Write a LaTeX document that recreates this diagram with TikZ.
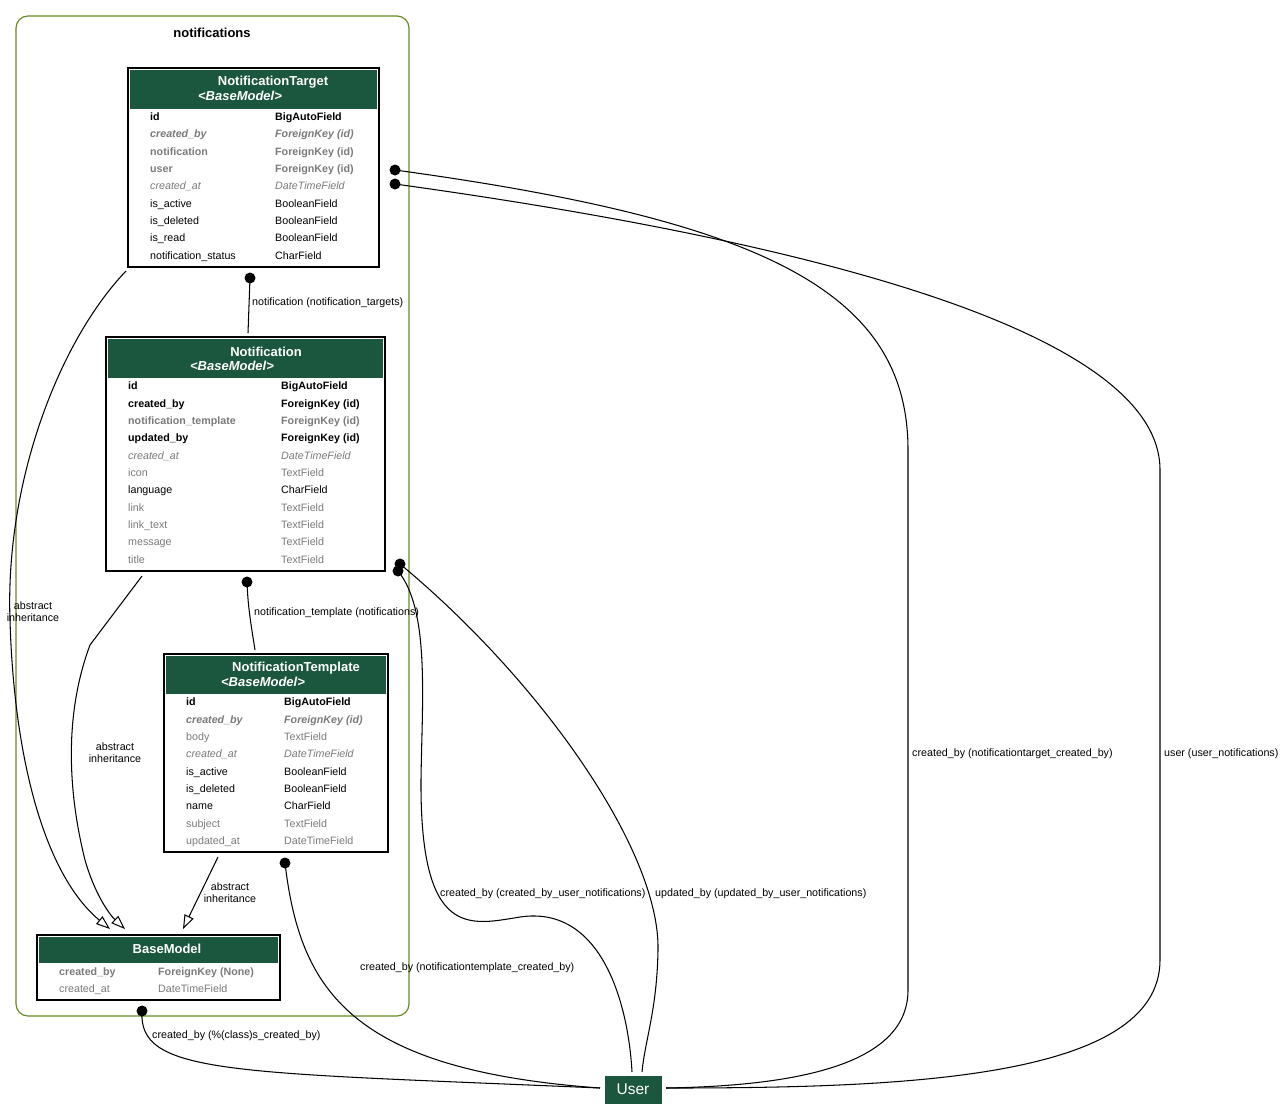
\documentclass[tikz,border=0pt]{standalone}
\usepackage{fontspec}
\setmainfont{Liberation Sans}
\usetikzlibrary{arrows.meta}
\definecolor{hdrgreen}{HTML}{1B563F}
\definecolor{fgray}{HTML}{7B7B7B}
\definecolor{olive}{HTML}{698B22}
\newcommand\fsz{\fontsize{10.7}{12}\selectfont}
\newcommand\tsz{\fontsize{13}{14}\selectfont}
\newcommand\frow[7]{%
 \node[fld,#5] (#1a) at (#2,#4) {#6};
 \node[fld,#5] (#1b) at (#3,#4) {#7};}
\tikzset{
 fld/.style={anchor=west,inner sep=0,text height=8pt,text depth=1pt,font=\fsz},
 bk/.style={text=black},
 bkb/.style={text=black,font=\fsz\bfseries},
 gy/.style={text=fgray},
 gyb/.style={text=fgray,font=\fsz\bfseries},
 gyi/.style={text=fgray,font=\fsz\itshape},
 gybi/.style={text=fgray,font=\fsz\bfseries\itshape},
 tbl/.style={draw=black,line width=1.1pt,fill=white,inner sep=0},
 hdrbox/.style={fill=hdrgreen,inner sep=0},
 ttl/.style={text=white,font=\tsz\bfseries,inner sep=0},
 sub/.style={text=white,font=\tsz\bfseries\itshape,inner sep=0},
 edge/.style={draw=black,line width=1.05pt},
 inh/.style={edge,-{Triangle[open,length=14pt,width=10pt,line width=1pt]}},
 elab/.style={font=\fsz,inner sep=0,text height=8pt,text depth=1pt},
 elabc/.style={font=\fsz,inner sep=0,align=center},
 dotc/.style={fill=black},
}
\begin{document}
\begin{tikzpicture}[x=1pt,y=-1pt]
\useasboundingbox (0,0) rectangle (1284,1119);
\fill[white] (0,0) rectangle (1284,1119);
% cluster
\node[draw=olive,line width=1.2pt,rounded corners=12pt,minimum width=393pt,minimum height=1000pt,inner sep=0] (cluster) at (212.5,516) {};
\node[font=\tsz\bfseries,inner sep=0] (clusterlbl) at (212,33) {notifications};

% coordinates for connectors
\coordinate (d1) at (250,278);   \coordinate (e1) at (248,333);
\coordinate (d2) at (247,582);   \coordinate (e2) at (255,650);
\coordinate (s3) at (126,271);   \coordinate (t3) at (110,929);
\coordinate (s4) at (142,576);   \coordinate (t4) at (125,929);
\coordinate (s5) at (218,857);   \coordinate (t5) at (183,929);
\coordinate (d6) at (142,1011);
\coordinate (d7) at (285,863);
\coordinate (d8) at (398,571);
\coordinate (d9) at (400,564);
\coordinate (d10) at (395,170);
\coordinate (d11) at (395,184);
\coordinate (uL) at (600,1088);
\coordinate (uR) at (666,1088);
\coordinate (uT1) at (632,1072);
\coordinate (uT2) at (642,1072);

% edges
\draw[edge] (d1) -- (e1);
\draw[edge] (d2) .. controls (248,610) and (252,630) .. (e2);
\draw[inh] (s3) .. controls (60,340) and (5,480) .. (10,620) .. controls (14,760) and (45,875) .. (t3);
\draw[inh] (s4) -- (90,645) .. controls (62,720) and (70,800) .. (85,860) .. controls (95,895) and (110,915) .. (t4);
\draw[inh] (s5) -- (t5);
\draw[edge] (d6) .. controls (138,1075) and (230,1072) .. (uL);
\draw[edge] (d7) .. controls (300,990) and (350,1070) .. (uL);
\draw[edge] (d8) .. controls (430,610) and (422,700) .. (421,780) .. controls (420,940) and (470,925) .. (520,917) .. controls (600,905) and (628,1000) .. (uT1);
\draw[edge] (d9) .. controls (540,680) and (660,850) .. (658,950) .. controls (657,1010) and (645,1040) .. (uT2);
\draw[edge] (d10) .. controls (760,220) and (908,290) .. (908,450) -- (908,990) .. controls (908,1070) and (780,1086) .. (uR);
\draw[edge] (d11) .. controls (800,240) and (1160,330) .. (1160,470) -- (1160,960) .. controls (1160,1080) and (900,1088) .. (uR);

% dots
\foreach \d in {d1,d2,d6,d7,d8,d9,d10,d11} \fill[dotc] (\d) circle (5.5pt);

% edge labels
\node[elab,anchor=west] (l1) at (252,302) {notification (notification\_targets)};
\node[elab,anchor=west] (l2) at (254,612) {notification\_template (notifications)};
\node[elabc] (l3) at (33,612) {abstract\\inheritance};
\node[elabc] (l4) at (115,753) {abstract\\inheritance};
\node[elabc] (l5) at (230,893) {abstract\\inheritance};
\node[elab,anchor=west] (l6) at (152,1035) {created\_by (\%(class)s\_created\_by)};
\node[elab,anchor=west] (l7) at (360,967) {created\_by (notificationtemplate\_created\_by)};
\node[elab,anchor=west] (l8) at (440,893) {created\_by (created\_by\_user\_notifications)};
\node[elab,anchor=west] (l9) at (655,893) {updated\_by (updated\_by\_user\_notifications)};
\node[elab,anchor=west] (l10) at (912,753) {created\_by (notificationtarget\_created\_by)};
\node[elab,anchor=west] (l11) at (1164,753) {user (user\_notifications)};

% NotificationTarget
\node[tbl,minimum width=251pt,minimum height=199pt] (NT) at (253.5,167.5) {};
\node[hdrbox,minimum width=247pt,minimum height=39pt] (NTh) at (253.5,89.5) {};
\node[ttl] (NTt) at (273,82) {NotificationTarget};
\node[sub] (NTs) at (240,96) {<BaseModel>};
\frow{ntA}{150}{275}{117}{bkb}{id}{BigAutoField}
\frow{ntB}{150}{275}{134}{gybi}{created\_by}{ForeignKey (id)}
\frow{ntC}{150}{275}{151.5}{gyb}{notification}{ForeignKey (id)}
\frow{ntD}{150}{275}{169}{gyb}{user}{ForeignKey (id)}
\frow{ntE}{150}{275}{186}{gyi}{created\_at}{DateTimeField}
\frow{ntF}{150}{275}{203.5}{bk}{is\_active}{BooleanField}
\frow{ntG}{150}{275}{221}{bk}{is\_deleted}{BooleanField}
\frow{ntH}{150}{275}{238}{bk}{is\_read}{BooleanField}
\frow{ntI}{150}{275}{255.5}{bk}{notification\_status}{CharField}

% Notification
\node[tbl,minimum width=279pt,minimum height=234pt] (NO) at (245.5,454) {};
\node[hdrbox,minimum width=275pt,minimum height=39pt] (NOh) at (245.5,358.5) {};
\node[ttl] (NOt) at (266,352) {Notification};
\node[sub] (NOs) at (232,365.5) {<BaseModel>};
\frow{noA}{128}{281}{386}{bkb}{id}{BigAutoField}
\frow{noB}{128}{281}{403.5}{bkb}{created\_by}{ForeignKey (id)}
\frow{noC}{128}{281}{421}{gyb}{notification\_template}{ForeignKey (id)}
\frow{noD}{128}{281}{438}{bkb}{updated\_by}{ForeignKey (id)}
\frow{noE}{128}{281}{455.5}{gyi}{created\_at}{DateTimeField}
\frow{noF}{128}{281}{473}{gy}{icon}{TextField}
\frow{noG}{128}{281}{490}{bk}{language}{CharField}
\frow{noH}{128}{281}{507.5}{gy}{link}{TextField}
\frow{noI}{128}{281}{525}{gy}{link\_text}{TextField}
\frow{noJ}{128}{281}{542}{gy}{message}{TextField}
\frow{noK}{128}{281}{559.5}{gy}{title}{TextField}

% NotificationTemplate
\node[tbl,minimum width=224pt,minimum height=198pt] (TP) at (276,753) {};
\node[hdrbox,minimum width=220pt,minimum height=38pt] (TPh) at (276,675) {};
\node[ttl] (TPt) at (296,668) {NotificationTemplate};
\node[sub] (TPs) at (263,681.5) {<BaseModel>};
\frow{tpA}{186}{284}{702}{bkb}{id}{BigAutoField}
\frow{tpB}{186}{284}{719.5}{gybi}{created\_by}{ForeignKey (id)}
\frow{tpC}{186}{284}{737}{gy}{body}{TextField}
\frow{tpD}{186}{284}{754}{gyi}{created\_at}{DateTimeField}
\frow{tpE}{186}{284}{771.5}{bk}{is\_active}{BooleanField}
\frow{tpF}{186}{284}{789}{bk}{is\_deleted}{BooleanField}
\frow{tpG}{186}{284}{806}{bk}{name}{CharField}
\frow{tpH}{186}{284}{823.5}{gy}{subject}{TextField}
\frow{tpI}{186}{284}{841}{gy}{updated\_at}{DateTimeField}

% BaseModel
\node[tbl,minimum width=243pt,minimum height=65pt] (BM) at (158.5,967.5) {};
\node[hdrbox,minimum width=239pt,minimum height=26pt] (BMh) at (158.5,950) {};
\node[ttl] (BMt) at (167,949) {BaseModel};
\frow{bmA}{59}{158}{971.5}{gyb}{created\_by}{ForeignKey (None)}
\frow{bmB}{59}{158}{989}{gy}{created\_at}{DateTimeField}

% User
\node[fill=hdrgreen,draw=white,line width=0.8pt,minimum width=58pt,minimum height=29pt,inner sep=0,text=white,font=\fontsize{15.5}{16}\selectfont] (User) at (633,1089.5) {User};
\end{tikzpicture}
\end{document}
